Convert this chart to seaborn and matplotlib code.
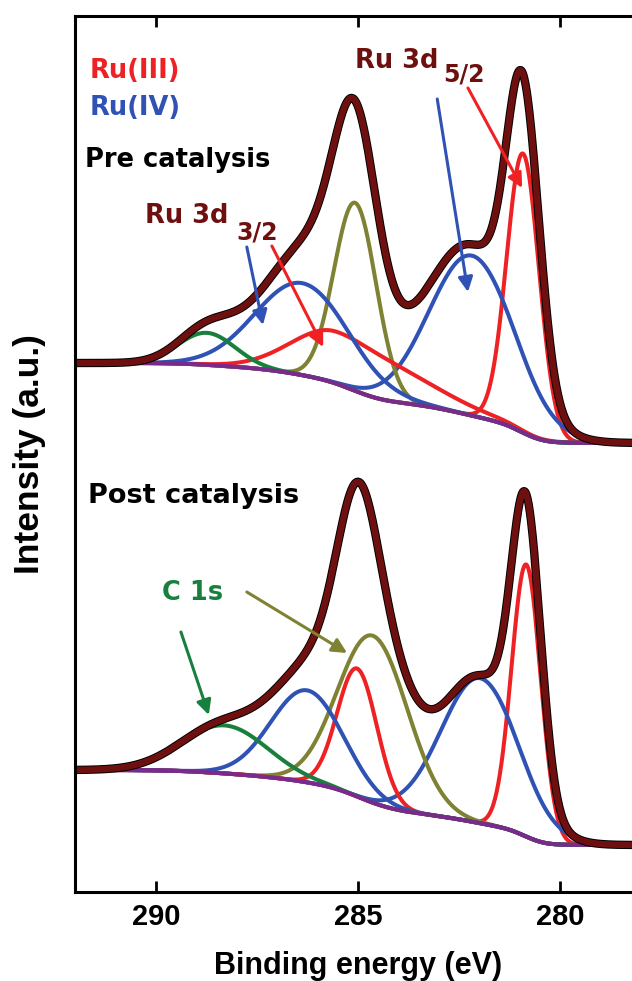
import numpy as np
import pandas as pd
import seaborn as sns
import matplotlib
matplotlib.use("Agg")
from matplotlib import pyplot as plt

# Ru 3d / C 1s XPS fit (intensity in a.u.)
# component order: Ru(III) 3d5/2, Ru(IV) 3d5/2, C 1s, Ru(III) 3d3/2, Ru(IV) 3d3/2, C 1s (2nd)
# widths are given for the low-BE side and the high-BE side of each peak
pre_centers = [280.92, 282.18, 285.07, 285.52, 286.38, 288.74]
pre_heights = [279, 160, 188, 52, 92, 32]
pre_sig_lo = [0.40, 1.05, 0.52, 1.80, 1.15, 0.70]
pre_sig_hi = [0.40, 1.05, 0.52, 1.10, 1.15, 0.70]
pre_bg = [449, 529]      # background level at low / high binding energy

post_centers = [280.84, 281.98, 284.63, 285.02, 286.26, 288.30]
post_heights = [272, 145, 167, 128, 92, 48]
post_sig_lo = [0.36, 0.95, 0.86, 0.49, 0.89, 1.05]
post_sig_hi = [0.36, 0.95, 0.86, 0.49, 0.89, 1.05]
post_bg = [47, 122]

xticks = [290, 285, 280]

comp_colors = ["#EE2224", "#2F52B4", "#7F8232", "#EE2224", "#2F52B4", "#18803C"]
bg_color = "#7A2A8C"
env_color = "#6E1010"

energy = np.linspace(278, 292, 1401)


def fit_curves(centers, heights, sig_lo, sig_hi, bg):
    comps = []
    for c, h, s1, s2 in zip(centers, heights, sig_lo, sig_hi):
        s = np.where(energy < c, s1, s2)
        comps.append(h * np.exp(-0.5 * ((energy - c) / s) ** 2))
    total = np.sum(comps, axis=0)
    # Shirley-type step background
    area = np.concatenate([[0], np.cumsum(0.5 * (total[1:] + total[:-1]) * np.diff(energy))])
    back = bg[0] + (bg[1] - bg[0]) * area / area[-1]
    return back, [back + p for p in comps], back + total


sns.set_theme(style="ticks")
plt.rcParams["font.family"] = ["Liberation Sans", "DejaVu Sans"]
plt.rcParams["font.weight"] = "bold"
plt.rcParams["text.color"] = "black"
plt.rcParams["axes.labelcolor"] = "black"
plt.rcParams["xtick.color"] = "black"

fig = plt.figure(figsize=(6.32, 9.81), dpi=100)
ax = fig.add_axes([75 / 632, 89 / 981, 566 / 632, 876 / 981])

for centers, heights, s_lo, s_hi, bg in [
        (pre_centers, pre_heights, pre_sig_lo, pre_sig_hi, pre_bg),
        (post_centers, post_heights, post_sig_lo, post_sig_hi, post_bg)]:
    back, comps, env = fit_curves(centers, heights, s_lo, s_hi, bg)
    for y, col in zip(comps, comp_colors):
        sns.lineplot(x=energy, y=y, ax=ax, color=col, lw=2.9)
    sns.lineplot(x=energy, y=back, ax=ax, color=bg_color, lw=2.9)
    sns.lineplot(x=energy, y=env, ax=ax, color="black", lw=6.0)
    sns.lineplot(x=energy, y=env, ax=ax, color=env_color, lw=4.6)

ax.set_xlim(292, 278)
ax.set_ylim(0, 876)
ax.set_xticks(xticks)
ax.set_xticklabels([str(t) for t in xticks], fontsize=21, fontweight="bold")
ax.set_yticks([])
ax.tick_params(axis="x", direction="in", length=8, width=2, top=True, pad=8,
               colors="black")
for sp in ax.spines.values():
    sp.set_linewidth(2.2)
    sp.set_color("black")

ax.set_xlabel("Binding energy (eV)", fontsize=22, fontweight="bold", va="center")
ax.xaxis.set_label_coords(0.5, -0.084)
ax.set_ylabel("Intensity (a.u.)", fontsize=25.5, fontweight="bold", va="center")
ax.yaxis.set_label_coords(-0.08, 0.5)

txt = dict(fontsize=18.5, fontweight="bold", va="baseline", ha="left",
           family="DejaVu Sans")
ax.text(291.63, 814, "Ru(III)", color="#EE2224", **txt)
ax.text(291.63, 777, "Ru(IV)", color="#2F52B4", **txt)
ax.text(291.76, 725, "Pre catalysis", color="black", **txt)
ax.text(290.27, 669, "Ru 3d", color=env_color, **txt)
ax.text(285.07, 824, "Ru 3d", color=env_color, **txt)
ax.text(291.68, 389, "Post catalysis", color="black", **dict(txt, fontsize=19.5))
ax.text(289.85, 292, "C 1s", color="#18803C", **txt)
sub = dict(txt, fontsize=17)
ax.text(288.02, 653, "3/2", color=env_color, **sub)
ax.text(282.90, 811, "5/2", color=env_color, **sub)


def arrow(x0, y0, x1, y1, col):
    ax.annotate("", xy=(x1, y1), xytext=(x0, y0),
                arrowprops=dict(arrowstyle="-|>", color=col, lw=2.2,
                                mutation_scale=22, shrinkA=0, shrinkB=0))


arrow(283.04, 793, 282.28, 600, "#2F52B4")
arrow(282.28, 804, 280.94, 704, "#EE2224")
arrow(287.75, 645, 287.35, 567, "#2F52B4")
arrow(287.13, 646, 285.86, 545, "#EE2224")
arrow(289.38, 260, 288.69, 177, "#18803C")
arrow(287.75, 300, 285.27, 239, "#7F8232")

fig.savefig("out.png", dpi=100)
